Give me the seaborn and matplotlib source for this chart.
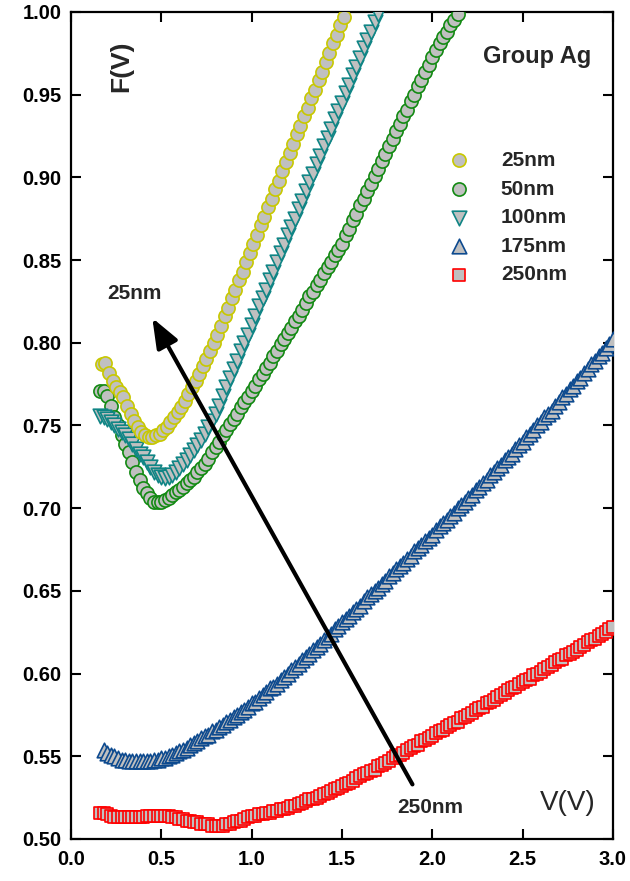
import numpy as np
import matplotlib
matplotlib.use("Agg")
import matplotlib.pyplot as plt
import seaborn as sns

# F(V) readings, one value every 0.02 V
f_25 = [0.787, 0.788, 0.782, 0.777, 0.773, 0.770, 0.767, 0.762, 0.757, 0.753,
        0.749, 0.746, 0.744, 0.743, 0.743, 0.744, 0.745, 0.747, 0.749, 0.752,
        0.755, 0.758, 0.761, 0.765, 0.769, 0.773, 0.777, 0.781, 0.786, 0.790,
        0.795, 0.800, 0.805, 0.810, 0.816, 0.821, 0.827, 0.832, 0.838, 0.843,
        0.849, 0.854, 0.860, 0.865, 0.871, 0.876, 0.882, 0.887, 0.893, 0.898,
        0.904, 0.909, 0.915, 0.920, 0.926, 0.931, 0.937, 0.942, 0.948, 0.953,
        0.959, 0.964, 0.970, 0.975, 0.981, 0.986, 0.992, 0.997]
v_25 = np.linspace(0.17, 1.51, len(f_25))

f_50 = [0.771, 0.771, 0.768, 0.762, 0.755, 0.750, 0.744, 0.739, 0.734, 0.728,
        0.722, 0.717, 0.712, 0.709, 0.706, 0.704, 0.704, 0.704, 0.705, 0.706,
        0.708, 0.710, 0.711, 0.713, 0.715, 0.717, 0.719, 0.722, 0.724, 0.727,
        0.730, 0.734, 0.737, 0.740, 0.744, 0.747, 0.751, 0.754, 0.757, 0.761,
        0.764, 0.767, 0.771, 0.774, 0.778, 0.781, 0.785, 0.788, 0.792, 0.795,
        0.799, 0.802, 0.806, 0.809, 0.813, 0.816, 0.820, 0.824, 0.828, 0.831,
        0.835, 0.838, 0.842, 0.846, 0.849, 0.853, 0.856, 0.860, 0.865, 0.869,
        0.874, 0.878, 0.883, 0.887, 0.892, 0.896, 0.901, 0.905, 0.910, 0.914,
        0.919, 0.923, 0.928, 0.932, 0.937, 0.941, 0.946, 0.950, 0.955, 0.959,
        0.964, 0.968, 0.973, 0.977, 0.981, 0.985, 0.988, 0.992, 0.995, 0.999]
v_50 = np.linspace(0.16, 2.14, len(f_50))

f_100 = [0.756, 0.755, 0.754, 0.752, 0.750, 0.748, 0.746, 0.744, 0.742, 0.739,
         0.736, 0.733, 0.731, 0.728, 0.725, 0.722, 0.720, 0.719, 0.718, 0.719,
         0.720, 0.722, 0.724, 0.727, 0.729, 0.732, 0.735, 0.738, 0.741, 0.745,
         0.749, 0.753, 0.757, 0.762, 0.768, 0.773, 0.779, 0.784, 0.789, 0.795,
         0.800, 0.805, 0.811, 0.816, 0.822, 0.827, 0.832, 0.838, 0.843, 0.849,
         0.854, 0.859, 0.865, 0.870, 0.875, 0.881, 0.886, 0.892, 0.897, 0.902,
         0.908, 0.913, 0.919, 0.924, 0.929, 0.935, 0.940, 0.945, 0.951, 0.956,
         0.962, 0.967, 0.972, 0.978, 0.983, 0.988, 0.994, 0.999]
v_100 = np.linspace(0.16, 1.70, len(f_100))

f_175 = [0.554, 0.552, 0.551, 0.550, 0.549, 0.548, 0.548, 0.547, 0.547, 0.547,
         0.547, 0.547, 0.547, 0.547, 0.548, 0.548, 0.549, 0.549, 0.550, 0.551,
         0.552, 0.553, 0.554, 0.555, 0.557, 0.558, 0.559, 0.561, 0.562, 0.563,
         0.565, 0.566, 0.568, 0.569, 0.571, 0.572, 0.574, 0.575, 0.577, 0.578,
         0.580, 0.582, 0.583, 0.585, 0.587, 0.589, 0.591, 0.592, 0.594, 0.596,
         0.598, 0.600, 0.602, 0.604, 0.606, 0.608, 0.610, 0.612, 0.614, 0.616,
         0.618, 0.620, 0.622, 0.624, 0.627, 0.629, 0.631, 0.633, 0.635, 0.637,
         0.639, 0.641, 0.644, 0.646, 0.648, 0.650, 0.652, 0.654, 0.656, 0.659,
         0.661, 0.663, 0.665, 0.667, 0.669, 0.671, 0.674, 0.676, 0.678, 0.680,
         0.682, 0.684, 0.687, 0.689, 0.691, 0.693, 0.695, 0.697, 0.700, 0.702,
         0.704, 0.706, 0.708, 0.711, 0.713, 0.715, 0.717, 0.720, 0.722, 0.724,
         0.726, 0.729, 0.731, 0.733, 0.736, 0.738, 0.740, 0.743, 0.745, 0.747,
         0.750, 0.752, 0.755, 0.757, 0.759, 0.762, 0.764, 0.767, 0.769, 0.772,
         0.774, 0.777, 0.779, 0.782, 0.784, 0.787, 0.789, 0.792, 0.794, 0.797,
         0.799, 0.802]
v_175 = np.linspace(0.18, 3.00, len(f_175))

f_250 = [0.516, 0.516, 0.515, 0.514, 0.513, 0.513, 0.513, 0.513, 0.513, 0.513,
         0.513, 0.513, 0.513, 0.514, 0.514, 0.514, 0.514, 0.514, 0.514, 0.514,
         0.513, 0.513, 0.512, 0.512, 0.511, 0.511, 0.510, 0.510, 0.509, 0.509,
         0.509, 0.508, 0.508, 0.508, 0.508, 0.509, 0.509, 0.510, 0.511, 0.511,
         0.512, 0.513, 0.514, 0.514, 0.515, 0.515, 0.516, 0.516, 0.517, 0.517,
         0.518, 0.518, 0.519, 0.520, 0.520, 0.521, 0.522, 0.523, 0.524, 0.524,
         0.525, 0.526, 0.527, 0.528, 0.529, 0.530, 0.531, 0.532, 0.533, 0.534,
         0.535, 0.537, 0.538, 0.539, 0.540, 0.541, 0.542, 0.544, 0.545, 0.546,
         0.547, 0.549, 0.550, 0.551, 0.552, 0.554, 0.555, 0.556, 0.557, 0.559,
         0.560, 0.561, 0.562, 0.564, 0.565, 0.566, 0.568, 0.569, 0.570, 0.571,
         0.573, 0.574, 0.575, 0.576, 0.578, 0.579, 0.580, 0.582, 0.583, 0.584,
         0.586, 0.587, 0.588, 0.590, 0.591, 0.592, 0.594, 0.595, 0.596, 0.597,
         0.599, 0.600, 0.601, 0.603, 0.604, 0.605, 0.607, 0.608, 0.609, 0.611,
         0.612, 0.613, 0.614, 0.616, 0.617, 0.619, 0.620, 0.621, 0.623, 0.624,
         0.625, 0.627, 0.628]
v_250 = np.linspace(0.16, 3.00, len(f_250))

labels = ["25nm", "50nm", "100nm", "175nm", "250nm"]
edge_colors = ["#c8c800", "#138a13", "#108585", "#0d4a8f", "#ff0000"]
markers = ["o", "o", "v", "^", "s"]
sizes = [90, 90, 110, 110, 85]
series = [(v_25, f_25), (v_50, f_50), (v_100, f_100), (v_175, f_175), (v_250, f_250)]
fill = "#c0c0c0"

sns.set_style("ticks")
plt.rcParams["font.family"] = ["Liberation Sans", "DejaVu Sans"]
plt.rcParams["font.weight"] = "bold"

fig = plt.figure(figsize=(6.3, 8.81), dpi=100)
ax = fig.add_axes([0.1127, 0.0477, 0.8603, 0.9387])

# draw back to front: red, navy, green, teal, yellow
order = [4, 3, 1, 2, 0]
for i in order:
    v, f = series[i]
    sns.scatterplot(x=v, y=f, marker=markers[i], s=sizes[i], color=fill,
                    edgecolor=edge_colors[i], linewidth=1.2, label=labels[i],
                    ax=ax, zorder=3 + order.index(i))

h, l = ax.get_legend_handles_labels()
lookup = dict(zip(l, h))
ax.legend([lookup[k] for k in labels], labels, loc="upper left",
          bbox_to_anchor=(0.697, 0.832), frameon=False, borderpad=0,
          borderaxespad=0, handlelength=1.0, handletextpad=1.5,
          labelspacing=0.46, prop={"weight": "bold", "size": 15})

ax.set_xlim(0, 3.0)
ax.set_ylim(0.5, 1.0)
ax.set_xticks(np.arange(0, 3.01, 0.5))
ax.set_yticks(np.arange(0.5, 1.001, 0.05))
ax.set_xticklabels([f"{t:.1f}" for t in np.arange(0, 3.01, 0.5)])
ax.set_yticklabels([f"{t:.2f}" for t in np.arange(0.5, 1.001, 0.05)])
ax.tick_params(direction="in", length=7, width=1.5, top=True, right=True,
               labelsize=14.5, colors="black")
ax.tick_params(axis="x", pad=8)
ax.tick_params(axis="y", pad=7)
for sp in ax.spines.values():
    sp.set_linewidth(1.6)
    sp.set_color("black")
ax.set_xlabel("")
ax.set_ylabel("")

ax.annotate("", xy=(0.45, 0.815), xytext=(1.89, 0.533),
            arrowprops=dict(arrowstyle="-|>,head_length=0.9,head_width=0.35",
                            color="black", lw=3, mutation_scale=20,
                            shrinkA=0, shrinkB=0), zorder=10)

ax.text(0.28, 0.967, "F(V)", rotation=90, ha="center", va="center",
        fontsize=19, fontweight="bold")
ax.text(2.58, 0.973, "Group Ag", ha="center", va="center",
        fontsize=17, fontweight="bold")
ax.text(0.35, 0.830, "25nm", ha="center", va="center",
        fontsize=15, fontweight="bold")
ax.text(1.99, 0.519, "250nm", ha="center", va="center",
        fontsize=15, fontweight="bold")
ax.text(2.75, 0.522, "V(V)", ha="center", va="center",
        fontsize=20, fontweight="normal")

fig.savefig("out.png", dpi=100)
